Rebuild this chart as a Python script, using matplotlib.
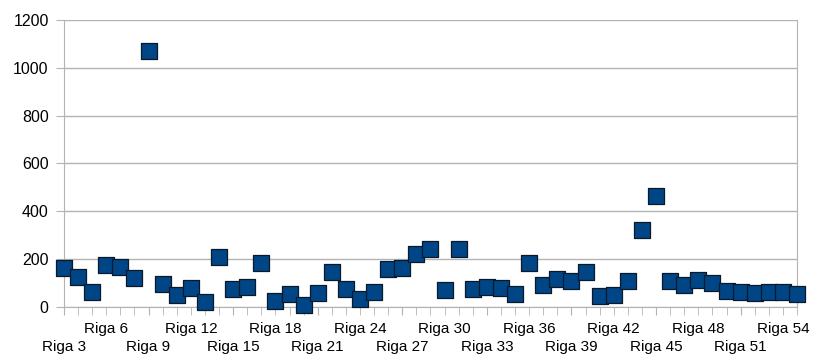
import numpy as np
import matplotlib.pyplot as plt

# rows Riga 3 .. Riga 55
rows = ['Riga %d' % n for n in range(3, 56)]
values = [161, 126, 63, 175, 168, 122, 1072, 96, 49, 80,
          20, 209, 74, 84, 184, 25, 53, 7, 59, 145,
          75, 32, 63, 157, 163, 219, 240, 70, 240, 74,
          84, 80, 52, 183, 91, 115, 109, 144, 46, 50,
          108, 323, 462, 108, 91, 110, 100, 66, 63, 57,
          63, 61, 53]
y_ticks = [0, 200, 400, 600, 800, 1000, 1200]

plt.rcParams['font.family'] = ['Liberation Sans', 'DejaVu Sans']
grid_col = '#b3b3b3'

fig = plt.figure(figsize=(8.2, 3.56), dpi=100)
ax = fig.add_axes([0.078, 0.1385, 0.894, 0.8055])

x = np.arange(len(rows))
ax.scatter(x, values, marker='s', s=118, color='#004586', edgecolors='#0a1a2a',
           linewidths=0.9, zorder=3, clip_on=False)

ax.set_xlim(0, len(rows) - 1)
ax.set_ylim(0, 1200)
ax.set_yticks(y_ticks)
ax.yaxis.grid(True, color=grid_col, lw=1)
ax.set_axisbelow(True)

# every category gets a tick; every third gets a label, staggered in two rows
lower = [i for i in x if i % 3 == 0 and (i // 3) % 2 == 0]
rest = [i for i in x if i not in lower]
ax.set_xticks(lower)
ax.set_xticklabels([rows[i] for i in lower])
ax.set_xticks(rest, minor=True)
ax.set_xticklabels([rows[i] if i % 3 == 0 else '' for i in rest], minor=True)

ax.tick_params(axis='x', which='major', length=6, color=grid_col, pad=18, labelsize=11)
ax.tick_params(axis='x', which='minor', length=6, color=grid_col, pad=5, labelsize=11)
ax.tick_params(axis='y', length=6, color=grid_col, pad=5, labelsize=11.5)

for s in ['left', 'right', 'bottom']:
    ax.spines[s].set_color(grid_col)
ax.spines['top'].set_visible(False)

fig.savefig('out.png', dpi=100)
